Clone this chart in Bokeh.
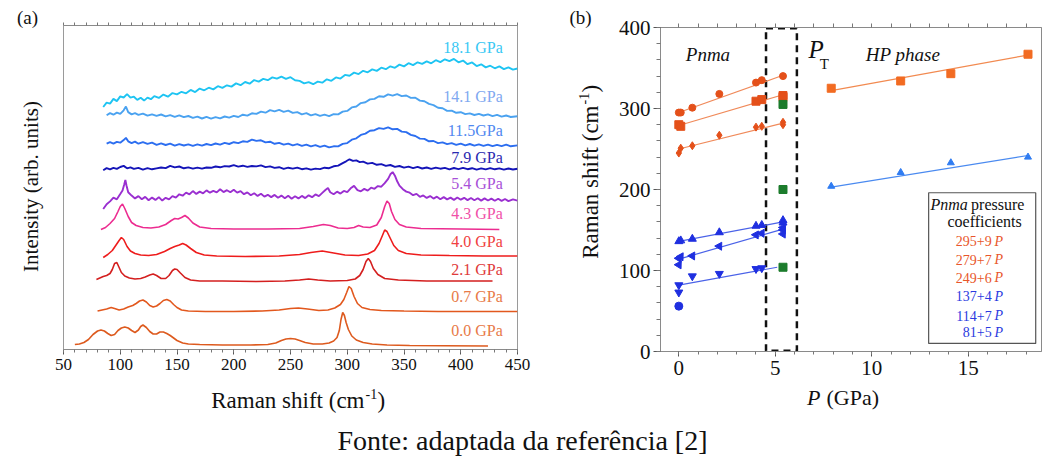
import math
from bokeh.plotting import figure
from bokeh.layouts import column, row
from bokeh.models import Range1d, LinearAxis, SingleIntervalTicker, FixedTicker
from bokeh.embed import file_html
from bokeh.resources import INLINE
from bokeh.core.properties import value

SERIF = "Liberation Serif"

# ---------------- Panel (a): Raman spectra (shift cm-1, intensity arb. units) ----------------
spec_00 = [(60,5),(64,5.5),(68,7),(72,10),(76,15),(80,18.5),(83,19.5),(86,18.5),(89,16),(92,14),(95,15),(98,19),
           (101,21.5),(104,22.5),(107,21.5),(110,19),(113,17),(116,19.5),(118,23),(120,24.5),(123,22),(126,18),
           (129,15.5),(132,15.5),(135,17.5),(138,17.5),(141,16),(144,14),(147,11.5),(150,9),(155,6.5),(160,5.5),
           (170,5),(190,4.5),(215,4.5),(230,5),(237,6.5),(242,9),(246,10.5),(250,11),(254,10.5),(258,9),(263,7),
           (270,5.5),(278,5.5),(284,6.5),(288,8.5),(291,12),(293,19),(294.5,30),(296,37),(297.5,34),(299,27),
           (301,20),(304,13.5),(308,9.5),(314,7),(322,5.5),(335,4.5),(355,4),(385,3.8),(424,3.5)]
spec_07 = [(80,38.5),(84,39.5),(88,40.5),(92,42),(95,41),(99,39.5),(103,40.5),(107,42.5),(111,44),(114,46),
           (117,48.5),(120,49.5),(123,47.5),(126,44),(129,42.5),(132,43.5),(135,46),(138,49),(141,50),(144,48.5),
           (147,45),(150,42),(154,39.5),(160,38.5),(175,38),(200,38),(225,38.5),(240,39.5),(250,41),(257,41.5),
           (265,40.5),(275,39),(283,39.5),(289,41.5),(294,45),(297,50),(299.5,57),(301.5,63),(303.5,61),(306,53),
           (309,46),(313,42),(320,40),(330,39),(350,38.5),(380,38),(415,38),(450,38)]
spec_21 = [(79,70),(82,71.5),(85,73),(88,74),(91,76),(93,80),(95,86),(97,87),(99,82),(101,77),(104,73.5),(108,71.5),
           (113,70.5),(118,71),(122,72.5),(126,74.5),(129,75.5),(132,74),(136,71),(140,71),(143,74),(146,79),
           (148,80.5),(150,80),(153,76.5),(157,72),(162,69.5),(170,68.5),(190,68.5),(220,68),(245,68.5),(258,69.5),
           (266,70.5),(274,69.5),(285,68.5),(300,69),(307,70.5),(311,74),(314,80),(316.5,88),(318.5,91),(320.5,88),
           (323,81),(327,75),(333,71),(345,69.5),(370,68.5),(400,68.5),(428,68.5)]
spec_40 = [(85,92),(89,95),(93,99),(96,104),(99,109),(101,112),(103,110),(106,103),(109,98.5),(113,96),(118,94.5),
           (125,94),(132,95),(139,98),(144,101),(148,103),(152,104.5),(155,106),(158,104.5),(162,101),(167,97),
           (174,94.5),(185,93.5),(210,93),(240,93.5),(258,95),(268,97),(278,98.5),(288,96.5),(298,94.5),(310,94),
           (318,95.5),(324,99),(328,106),(331,114),(333,119.5),(335,118),(338,111),(341,104),(345,99),(352,96),
           (365,94.5),(390,94),(420,93.5),(450,93.5)]
spec_43 = [(83,120),(87,122),(91,126),(95,131),(98,138),(100,143),(102,145.5),(104,141),(107,133),(110,127),(114,124),
           (120,122),(127,121.5),(134,122.5),(140,125),(145,129),(148,131),(151,130.5),(154,132),(157,134),(160,131.5),
           (164,126.5),(170,122.5),(180,121),(200,120.5),(230,120.5),(258,121),(270,123),(279,125),(285,124),
           (292,121.5),(300,121),(306,122),(310,124),(314,122.5),(320,122),(326,124.5),(330,132),(333,143),
           (335,148.5),(337,146),(339,138),(342,130),(346,125),(352,122.5),(365,121),(400,120.5),(434,120)]
spec_54 = [(85,140.5),(88,145.2),(91,148.1),(94,151.8),(97,150.2),(100,155.4),(102,158.9),(103.5,165.0),(104.5,169.5),
           (105.5,164.0),(107,157.2),(110,153.9),(113,151.1),(116,153.4),(119,150.2),(122,152.6),(125,149.3),(128,151.9),
           (131,149.6),(134,152.3),(137,148.9),(140,151.7),(143,150.1),(146,153.4),(149,151.9),(152,155.2),(155,153.8),
           (158,156.9),(161,155.2),(164,158.4),(167,155.6),(170,157.9),(173,156.2),(176,159.1),(179,156.8),(182,158.6),
           (185,157.1),(188,160.2),(191,157.4),(194,159.3),(197,157.2),(200,159.8),(203,156.9),(206,158.4),(209,155.3),
           (212,157.1),(215,154.2),(218,156.3),(221,153.6),(224,155.8),(227,152.9),(230,154.7),(233,152.4),(236,154.6),
           (239,151.8),(242,153.9),(245,151.3),(248,153.7),(251,150.8),(254,153.2),(257,151.1),(260,153.6),(263,151.4),
           (266,154.2),(269,152.3),(272,155.1),(275,153.4),(278,156.6),(281,159.8),(283,161.5),(285,157.3),(288,155.2),
           (291,157.8),(294,155.9),(297,158.6),(300,157.4),(303,161.2),(306,163.6),(309,159.4),(312,158.2),(315,160.6),
           (318,158.9),(321,161.8),(324,160.7),(327,163.4),(330,162.8),(333,166.3),(336,170.6),(338,175.2),(340,177.4),
           (342,173.8),(344,168.2),(346,163.9),(349,160.3),(352,157.9),(355,156.8),(358,154.3),(361,155.6),(364,152.7),
           (367,154.1),(370,151.6),(373,153.4),(376,150.9),(379,152.8),(382,150.2),(385,152.4),(388,150.1),(391,151.9),
           (394,149.6),(397,152.0),(400,149.8),(403,151.7),(406,149.4),(409,151.5),(412,149.2),(415,151.3),(418,148.9),
           (421,151.1),(424,149.0),(427,150.9),(430,148.7),(433,150.8),(436,148.6),(439,150.5),(442,148.4),(446,150.1),
           (450,148.8)]
spec_79 = [(85,179.2),(88,181.4),(91,180.1),(94,181.6),(97,180.6),(100,182.5),(103,183.6),(106,181.2),(109,182.1),
           (112,180.6),(116,181.7),(120,179.9),(124,181.3),(128,180.2),(132,181.1),(136,182.0),(140,181.4),(144,183.6),
           (148,182.1),(152,183.0),(156,181.2),(160,182.1),(164,180.8),(168,181.9),(172,180.9),(176,182.0),(180,181.7),
           (184,183.0),(188,182.2),(192,183.4),(196,183.0),(200,184.3),(204,182.9),(208,183.8),(212,182.6),(216,183.5),
           (220,183.1),(224,184.2),(228,182.4),(232,183.1),(236,181.6),(240,182.3),(244,180.7),(248,181.8),(252,180.9),
           (256,181.9),(260,180.3),(264,181.1),(268,179.8),(272,180.9),(276,180.4),(280,181.8),(284,181.3),(288,183.2),
           (292,183.9),(296,186.4),(299,188.2),(302,190.2),(305,188.6),(308,189.1),(311,187.4),(314,187.9),(318,185.9),
           (322,186.6),(326,184.7),(330,185.4),(334,183.6),(338,184.5),(342,182.6),(346,183.5),(350,181.9),(354,182.9),
           (358,181.4),(362,182.6),(366,181.0),(370,182.0),(374,180.6),(378,181.9),(382,180.8),(386,181.6),(390,180.2),
           (394,181.5),(398,180.4),(402,181.7),(406,180.3),(410,181.3),(414,179.9),(418,181.2),(422,180.1),(426,181.4),
           (430,180.2),(434,181.1),(438,179.9),(442,181.0),(446,180.0),(450,180.8)]
spec_115 = [(88,205.8),(91,207.3),(94,205.9),(97,207.6),(100,206.8),(103,209.4),(105,211.6),(107,208.2),(110,206.4),
            (113,207.9),(116,205.8),(120,207.4),(124,205.6),(128,206.9),(132,204.7),(136,206.1),(140,204.5),(144,205.8),
            (148,203.9),(152,205.4),(156,204.0),(160,205.2),(164,203.6),(168,205.1),(172,203.9),(176,205.5),(180,204.3),
            (184,206.0),(188,204.9),(192,206.6),(196,205.5),(200,207.3),(204,206.4),(208,208.2),(212,207.6),(216,209.9),
            (220,208.6),(224,209.2),(228,207.1),(232,207.8),(236,205.7),(240,206.6),(244,204.8),(248,205.9),(252,204.1),
            (256,205.3),(260,203.6),(264,204.9),(268,203.2),(272,204.4),(276,202.7),(280,203.9),(284,202.1),(288,203.2),
            (292,203.1),(296,205.6),(300,206.4),(304,209.8),(308,211.2),(312,214.6),(316,215.9),(320,218.8),(324,219.3),
            (328,221.4),(332,220.6),(336,222.1),(340,220.2),(344,220.6),(348,217.9),(352,217.4),(356,214.6),(360,213.5),
            (364,210.9),(368,210.6),(372,208.2),(376,208.5),(380,206.4),(384,207.1),(388,205.3),(392,206.4),(396,204.7),
            (400,205.9),(404,204.2),(408,205.5),(412,203.8),(416,205.1),(420,203.6),(424,204.9),(428,203.3),(432,204.6),
            (436,203.4),(440,204.8),(444,203.2),(450,204.1)]
spec_141 = [(88,234.2),(91,236.4),(94,234.8),(97,236.9),(100,235.6),(103,239.2),(105,243.0),(107,237.4),(110,235.1),
            (113,236.3),(116,234.6),(120,235.9),(124,233.8),(128,235.2),(132,233.6),(136,235.0),(140,233.1),(144,234.4),
            (148,232.7),(152,234.1),(156,232.3),(160,233.5),(164,231.6),(168,232.9),(172,231.0),(176,232.6),(180,230.9),
            (184,232.4),(188,231.2),(192,233.0),(196,231.8),(200,233.6),(204,232.5),(208,234.8),(212,233.9),(216,236.2),
            (220,235.6),(224,237.9),(228,236.8),(232,239.4),(236,238.1),(240,239.6),(244,237.7),(248,238.9),(252,236.6),
            (256,237.4),(260,235.2),(264,236.3),(268,234.1),(272,235.4),(276,233.6),(280,234.8),(284,233.4),(288,235.3),
            (292,235.1),(296,237.9),(300,238.6),(304,242.1),(308,243.0),(312,246.4),(316,247.2),(320,250.1),(324,250.6),
            (328,253.2),(332,252.7),(336,255.1),(340,253.9),(344,255.3),(348,253.4),(352,254.0),(356,251.6),(360,251.8),
            (364,248.9),(368,248.3),(372,245.6),(376,244.4),(380,241.7),(384,241.3),(388,238.6),(392,238.9),(396,236.7),
            (400,237.3),(404,235.4),(408,236.1),(412,234.5),(416,235.6),(420,234.0),(424,235.1),(428,233.4),(432,234.6),
            (436,232.9),(440,234.0),(444,232.5),(450,233.2)]
spec_181 = [(85,242.5),(88,246.8),(91,245.9),(94,250.6),(97,248.4),(100,253.1),(103,252.0),(106,255.4),(109,251.9),
            (112,252.8),(115,249.6),(118,251.7),(121,248.9),(124,251.9),(127,250.3),(130,253.4),(134,251.6),(138,254.9),
            (142,252.8),(146,256.4),(150,255.1),(154,257.7),(158,256.2),(162,259.6),(166,257.4),(170,260.9),(174,259.2),
            (178,261.8),(182,260.1),(186,263.3),(190,261.6),(194,264.2),(198,262.9),(202,266.1),(206,264.3),(210,267.5),
            (214,265.8),(218,269.4),(222,267.9),(226,270.6),(230,269.3),(234,272.1),(238,270.8),(242,272.9),(246,270.6),
            (250,272.3),(254,269.2),(258,268.6),(262,266.1),(266,267.4),(270,265.3),(274,267.9),(278,266.8),(282,270.2),
            (286,268.7),(290,272.1),(294,270.9),(298,274.6),(302,273.8),(306,276.9),(310,275.4),(314,278.7),(318,277.2),
            (322,280.1),(326,278.6),(330,281.8),(334,280.3),(338,283.2),(342,281.7),(346,284.9),(350,283.1),(354,286.3),
            (358,284.4),(362,287.2),(366,285.6),(370,288.1),(374,286.2),(378,289.3),(382,287.4),(386,290.2),(390,288.3),
            (394,290.6),(398,287.2),(402,288.9),(406,285.3),(410,287.1),(414,283.4),(418,285.2),(422,282.1),(426,283.8),
            (430,281.2),(434,283.1),(438,280.4),(442,282.2),(446,279.9),(450,281.0)]

spectra = [spec_00, spec_07, spec_21, spec_40, spec_43, spec_54, spec_79, spec_115, spec_141, spec_181]
pressure_labels = ["0.0 GPa", "0.7 GPa", "2.1 GPa", "4.0 GPa", "4.3 GPa", "5.4 GPa",
                   "7.9 GPa", "11.5GPa", "14.1 GPa", "18.1 GPa"]
label_level = [19, 53, 80, 108, 136, 166, 192, 219, 253, 302]
line_colors = ["#dd5a1e", "#e2581e", "#d41f1f", "#ee1c1c", "#ec2c90", "#9a2fd0",
               "#1414b8", "#2c6ef0", "#4aa2f0", "#1ec4f2"]
label_colors = ["#e87a48", "#e87a48", "#e03a3a", "#f04040", "#f050a8", "#a850d8",
                "#2a2ab0", "#5088f0", "#80a8f0", "#38c8f4"]

# ---------------- Panel (b): Raman shift vs pressure ----------------
p_circ = [0, 0.1, 0.7, 2.1, 4.0, 4.3, 5.4]
w_circ = [295, 295, 301, 318, 332, 335, 340]
p_sq = [0, 0.1, 4.0, 4.3, 5.4, 5.4]
w_sq = [280, 278, 309, 311, 316, 314]
p_dia = [0, 0.1, 0.7, 2.1, 4.0, 4.3, 5.4, 5.4]
w_dia = [245, 251, 254, 267, 277, 278, 283, 280]
p_up = [0, 0.1, 0.7, 2.1, 4.0, 4.3, 5.4, 5.4]
w_up = [136, 137, 139, 147, 155, 156, 162, 159]
p_tri = [0, 0, 0.1, 0.7, 2.1, 4.0, 4.3, 5.4, 5.4, 5.4]
w_tri = [107, 115, 117, 118, 130, 144, 146, 153, 150, 145]
p_down = [0, 0, 0.7, 2.1, 4.0, 4.3]
w_down = [82, 73, 93, 96, 102, 103]
p_dot = [0]
w_dot = [56]
p_green = [5.4, 5.4, 5.4]
w_green = [305, 200, 104]
p_hp = [7.9, 11.5, 14.1, 18.1]
w_hp_high = [325, 334, 343, 367]
w_hp_low = [204, 221, 233, 240]

fit_p = [0, 5.4]
fit_w_orange = [[295, 341], [279, 317], [250, 282]]
fit_w_blue = [[136, 160], [114, 151]]
fit_p_down = [0, 5.1]
fit_w_down = [82, 104]
fit_p_hp = [7.9, 18.1]
fit_w_hp_high = [322, 366]
fit_w_hp_low = [203, 242]

coef_numbers = ["295+9", "279+7", "249+6", "137+4", "114+7", "81+5"]
coef_levels = [136, 113, 91, 68, 44, 24]
coef_colors = ["#e8562a", "#e8562a", "#e8562a", "#2a3ae0", "#2a3ae0", "#2a3ae0"]

transition_box = (4.52, 6.12)

caption = "Fonte: adaptada da referência [2]"

ORANGE = "#e4501a"
ORANGE_HP = "#f26b22"
BLUE = "#1f2fe0"
BLUE_HP = "#2f7cf2"
GREEN = "#1c7c2c"
INK = "#111111"
UP = math.pi / 2


def style_axis(ax, label_size, tick_out, minor_out):
    ax.axis_line_color = "#8a8a8a"
    ax.major_tick_line_color = "#555555"
    ax.minor_tick_line_color = "#777777"
    ax.major_tick_in = 0
    ax.major_tick_out = tick_out
    ax.minor_tick_in = 0
    ax.minor_tick_out = minor_out
    ax.major_label_text_font = SERIF
    ax.major_label_text_font_size = label_size
    ax.major_label_text_color = INK


def add_text(fig, x, y, txt, size, align="left", style="normal", color=INK, baseline="middle", angle=0):
    fig.text(x=[x], y=[y], text=[txt], text_align=align, text_baseline=baseline, angle=angle,
             text_font=value(SERIF), text_font_style=style, text_font_size=size, text_color=color)


def strip(width, height):
    f = figure(width=width, height=height, x_range=Range1d(0, width), y_range=Range1d(0, height),
               output_backend="svg", toolbar_location=None, x_axis_location=None, y_axis_location=None,
               min_border=0, title=None, frame_align=False)
    f.grid.visible = False
    f.outline_line_color = None
    return f


# ---------------- left strip: tag (a) and intensity title ----------------
left_a = strip(50, 385)
add_text(left_a, 27, 368, "(a)", "19px", align="center")
add_text(left_a, 30, 199, "Intensity (arb. units)", "21px", align="center", angle=UP)

# ---------------- figure (a) ----------------
p1 = figure(width=495, height=385, x_range=Range1d(50, 450), y_range=Range1d(0, 324),
            output_backend="svg", toolbar_location=None, title=None, frame_align=False,
            min_border_left=13, min_border_right=28, min_border_top=25, min_border_bottom=36)
p1.grid.visible = False
p1.outline_line_color = "#9a9a9a"

xa = p1.xaxis[0]
xa.ticker = SingleIntervalTicker(interval=50, num_minor_ticks=5)
style_axis(xa, "17px", 5, 3)
xa.major_label_standoff = 4

ya = p1.yaxis[0]
ya.ticker = FixedTicker(ticks=[])
style_axis(ya, "17px", 0, 0)
ya.axis_line_color = "#9a9a9a"

top1 = LinearAxis(ticker=FixedTicker(ticks=[], minor_ticks=list(range(50, 451, 10))))
style_axis(top1, "17px", 4, 3)
p1.add_layout(top1, "above")

for i, (spec, lc, lab, lev, tc) in enumerate(zip(spectra, line_colors, pressure_labels, label_level, label_colors)):
    xs = [pt[0] for pt in spec]
    ys = [pt[1] for pt in spec]
    p1.line(xs, ys, line_color=lc, line_width=1.6 if i < 5 else 1.9)
    add_text(p1, 437, lev, lab, "16px", align="right", color=tc)

# ---------------- middle strip: tag (b) and Raman shift title ----------------
left_b = strip(65, 385)
add_text(left_b, 35, 368, "(b)", "19px", align="center")
add_text(left_b, 45, 280, "Raman shift (cm", "23px", align="right", angle=UP)
add_text(left_b, 38, 281, "-1", "14px", align="left", angle=UP)
add_text(left_b, 45, 293, ")", "23px", align="left", angle=UP)

# ---------------- figure (b) ----------------
p2 = figure(width=434, height=385, x_range=Range1d(-0.95, 18.8), y_range=Range1d(0, 400),
            output_backend="svg", toolbar_location=None, title=None, frame_align=False,
            min_border_left=50, min_border_right=3, min_border_top=27, min_border_bottom=34)
p2.grid.visible = False
p2.outline_line_color = "#8a8a8a"

xb = p2.xaxis[0]
xb.ticker = SingleIntervalTicker(interval=5, num_minor_ticks=5)
style_axis(xb, "21px", 5, 3)
xb.major_label_standoff = 4

yb = p2.yaxis[0]
yb.ticker = SingleIntervalTicker(interval=100, num_minor_ticks=5)
style_axis(yb, "21px", 7, 4)
yb.major_label_standoff = 3

top2 = LinearAxis(ticker=FixedTicker(ticks=[], minor_ticks=list(range(0, 19))))
style_axis(top2, "17px", 4, 4)
p2.add_layout(top2, "above")

# transition region
p2.quad(left=[transition_box[0]], right=[transition_box[1]], bottom=[0.8], top=[399.2],
        fill_color=None, line_color=INK, line_width=2.5, line_dash="7 5")

# fits
for fw in fit_w_orange:
    p2.line(fit_p, fw, line_color="#f08a5a", line_width=1.2)
for fw in fit_w_blue:
    p2.line(fit_p, fw, line_color="#4a62e8", line_width=1.2)
p2.line(fit_p_down, fit_w_down, line_color="#4a62e8", line_width=1.2)
p2.line(fit_p_hp, fit_w_hp_high, line_color="#f28a50", line_width=1.2)
p2.line(fit_p_hp, fit_w_hp_low, line_color="#4a8af0", line_width=1.2)

# points
p2.scatter(p_circ, w_circ, marker="circle", size=7, color=ORANGE)
p2.scatter(p_sq, w_sq, marker="square", size=8, color=ORANGE)
p2.scatter(p_dia, w_dia, marker="diamond", size=8, color=ORANGE)
p2.scatter(p_up, w_up, marker="triangle", size=8, color=BLUE)
p2.scatter(p_tri, w_tri, marker="triangle", size=8, color=BLUE, angle=-0.55)
p2.scatter(p_down, w_down, marker="inverted_triangle", size=8, color=BLUE)
p2.scatter(p_dot, w_dot, marker="circle", size=8, color=BLUE)
p2.scatter(p_green, w_green, marker="square", size=8, color=GREEN)
p2.scatter(p_hp, w_hp_high, marker="square", size=8, color=ORANGE_HP)
p2.scatter(p_hp, w_hp_low, marker="triangle", size=7, color=BLUE_HP)

# region titles
add_text(p2, 0.36, 367, "Pnma", "19px", style="italic")
add_text(p2, 6.72, 373, "P", "25px", style="italic")
add_text(p2, 7.3, 355, "T", "15px")
add_text(p2, 9.69, 367, "HP phase", "19px", style="italic")

# coefficient box
p2.quad(left=[12.95], right=[18.5], bottom=[10], top=[196], fill_color="white",
        line_color="#555555", line_width=1.2)
add_text(p2, 14.98, 182, "Pnma", "16px", align="right", style="italic")
add_text(p2, 15.15, 182, "pressure", "16px")
add_text(p2, 15.85, 160, "coefficients", "16px", align="center")
p2.text(x=[16.22] * len(coef_numbers), y=coef_levels, text=coef_numbers, text_align="right",
        text_baseline="middle", text_font=value(SERIF), text_font_size="14px", text_color=coef_colors)
p2.text(x=[16.37] * len(coef_numbers), y=coef_levels, text=["P"] * len(coef_numbers), text_align="left",
        text_baseline="middle", text_font=value(SERIF), text_font_style="italic", text_font_size="14px",
        text_color=coef_colors)

# ---------------- bottom strip: axis titles and caption ----------------
bot = strip(1044, 72)
add_text(bot, 364, 57, "Raman shift (cm", "23px", align="right")
add_text(bot, 365, 64, "-1", "14px")
add_text(bot, 377, 57, ")", "23px")
add_text(bot, 820, 60, "P", "22px", align="right", style="italic")
add_text(bot, 826, 60, "(GPa)", "22px")
add_text(bot, 522, 17, caption, "28px", align="center")

layout = column(row(left_a, p1, left_b, p2), bot)
open("out.html", "w").write(file_html(layout, INLINE))
